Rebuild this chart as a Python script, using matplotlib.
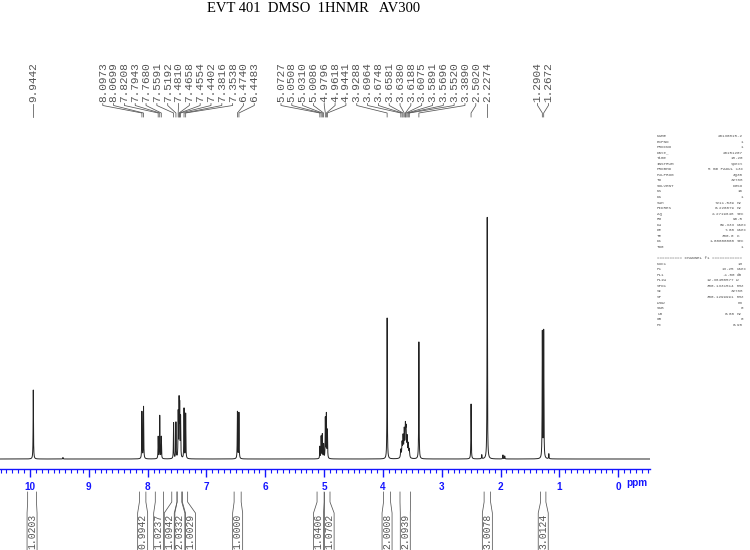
"""1H NMR spectrum, EVT 401 in DMSO (AV300), Bruker-style plot."""
import matplotlib
matplotlib.use("Agg")
import matplotlib.pyplot as plt
import numpy as np
from matplotlib.ticker import MultipleLocator
from matplotlib.transforms import blended_transform_factory

TITLE = "EVT 401  DMSO  1HNMR   AV300"

# picked peaks (ppm) and their heights (arbitrary units)
PEAK_PPM = [9.9442, 8.0973, 8.0699, 7.8208, 7.7943, 7.7680, 7.5591, 7.5192,
            7.4810, 7.4658, 7.4554, 7.4402, 7.3816, 7.3538, 6.4740, 6.4483,
            5.0727, 5.0508, 5.0310, 5.0086, 4.9796, 4.9618, 4.9441, 3.9288,
            3.6964, 3.6748, 3.6581, 3.6380, 3.6188, 3.6075, 3.5891, 3.5696,
            3.5520, 3.3890, 2.5020, 2.2274, 1.2904, 1.2672]
PEAK_HEIGHT = [69, 47, 52, 22, 43, 22, 36, 36,
               45, 55, 50, 40, 50, 45, 47, 46,
               12, 22, 24, 14, 40, 44, 28, 141,
               8, 14, 20, 26, 28, 25, 19, 13,
               8, 117, 55, 242, 126, 127]

# small unlabelled signals
MINOR_PPM = [9.44, 2.32, 1.96, 1.93, 1.18]
MINOR_HEIGHT = [1.5, 4, 4, 3, 5]

# integrals: region (ppm) and value
INT_FROM = [10.04, 8.14, 7.87, 7.59, 7.50, 7.41, 6.53, 5.12, 5.00, 3.99, 3.71, 2.28, 1.32]
INT_TO = [9.89, 8.03, 7.73, 7.50, 7.42, 7.32, 6.41, 5.00, 4.90, 3.87, 3.53, 2.17, 1.23]
INT_VALUE = ["1.0203", "0.9942", "1.0237", "1.0942", "2.0332", "1.0029", "1.0000",
             "1.0406", "1.0702", "2.0008", "2.0939", "3.0078", "3.0124"]

# acquisition / processing parameters
PARAM_NAME = ["NAME", "EXPNO", "PROCNO", "Date_", "Time", "INSTRUM", "PROBHD",
              "PULPROG", "TD", "SOLVENT", "NS", "DS", "SWH", "FIDRES", "AQ", "RG",
              "DW", "DE", "TE", "D1", "TD0"]
PARAM_VALUE = ["20130815-2", "1", "1", "20151207", "18.20", "spect", "5 mm PADUL 13C",
               "zg30", "32768", "DMSO", "16", "1", "7211.539", "0.220079", "2.2719648",
               "90.5", "69.333", "7.00", "300.0", "1.00000000", "1"]
PARAM_UNIT = ["", "", "", "", "", "", "", "", "", "", "", "", "Hz", "Hz", "sec", "",
              "usec", "usec", "K", "sec", ""]
CHAN_NAME = ["NUC1", "P1", "PL1", "PL1W", "SFO1", "SI", "SF", "WDW", "SSB", "LB", "GB", "PC"]
CHAN_VALUE = ["1H", "13.25", "-1.00", "12.36450577", "300.1331514", "32768",
              "300.1299991", "no", "0", "0.00", "0", "0.90"]
CHAN_UNIT = ["", "usec", "dB", "W", "MHz", "", "MHz", "", "", "Hz", "", ""]

W, H = 750, 550
XMAX, XMIN = 10.51, -0.54
LABEL_GAP = 0.184   # ppm between neighbouring peak labels
INT_GAP = 0.18      # ppm between neighbouring integral boxes
INT_HALF = 0.085    # half width of an integral box, ppm
BLUE = "#1515ff"
MONO = "Liberation Mono"
INK = "#555555"


def fy(py):
    return 1 - py / H


def spread(targets, gap):
    """Spread ascending targets so they are at least `gap` apart, groups centred."""
    groups = []
    for t in targets:
        groups.append([t])
        while len(groups) > 1:
            a, b = groups[-2], groups[-1]
            end_a = np.mean(a) + (len(a) - 1) * gap / 2
            start_b = np.mean(b) - (len(b) - 1) * gap / 2
            if end_a + gap <= start_b:
                break
            groups[-2:] = [a + b]
    out = []
    for g in groups:
        s = np.mean(g) - (len(g) - 1) * gap / 2
        out += [s + i * gap for i in range(len(g))]
    return out


def main() -> None:
    fig = plt.figure(figsize=(W / 100, H / 100), dpi=100)
    ax = fig.add_axes([0, 81 / H, 650 / W, 349 / H])

    ppm = np.array(PEAK_PPM + MINOR_PPM)
    hgt = np.array(PEAK_HEIGHT + MINOR_HEIGHT, dtype=float)
    gam = np.where((ppm > 3.5) & (ppm < 3.72), 0.006, 0.0035)
    x = np.linspace(XMAX, XMIN, 40000)
    y = np.zeros_like(x)
    for p, h, g in zip(ppm, hgt, gam):
        y += h * g ** 2 / (g ** 2 + (x - p) ** 2)
    ax.plot(x, y, color="#222222", lw=0.7)

    ax.set_xlim(XMAX, XMIN)
    ax.set_ylim(-10, 339)
    for s in ("left", "right", "top"):
        ax.spines[s].set_visible(False)
    ax.spines["bottom"].set_color(BLUE)
    ax.spines["bottom"].set_linewidth(1.0)
    ax.set_yticks([])
    ax.set_xticks(range(0, 11))
    ax.xaxis.set_minor_locator(MultipleLocator(0.1))
    ax.tick_params(axis="x", which="major", length=6, width=1.0, color=BLUE,
                   labelcolor=BLUE, labelsize=7.2, pad=3)
    ax.tick_params(axis="x", which="minor", length=3, width=0.8, color=BLUE)
    for lbl in ax.get_xticklabels():
        lbl.set_fontweight("bold")
        lbl.set_family("Liberation Sans")
    fig.text(637 / W, fy(483.5), "ppm", ha="center", va="center", color=BLUE,
             fontsize=7.2, fontweight="bold", family="Liberation Sans")

    fig.text(314 / W, fy(8), TITLE, ha="center", va="center",
             family="Liberation Serif", fontsize=10.5)

    trans = blended_transform_factory(ax.transData, fig.transFigure)

    # peak labels with connectors
    order = sorted(range(len(PEAK_PPM)), key=lambda i: -PEAK_PPM[i])
    targets = [-PEAK_PPM[i] for i in order]
    pos = [-v for v in spread(targets, LABEL_GAP)]
    for i, lx in zip(order, pos):
        p = PEAK_PPM[i]
        ax.text(lx, fy(102), f"{p:.4f}", transform=trans, rotation=90,
                ha="center", va="bottom", fontsize=8, family=MONO, color=INK)
        ax.plot([lx, lx, p, p], [fy(103.5), fy(105.5), fy(113), fy(117)],
                transform=trans, clip_on=False, lw=0.55, color="#555555")

    # integrals
    centres = [-(a + b) / 2 for a, b in zip(INT_FROM, INT_TO)]
    boxes = [-v for v in spread(centres, INT_GAP)]
    for a, b, c, val in zip(INT_FROM, INT_TO, boxes, INT_VALUE):
        ys = [fy(492), fy(502), fy(513), fy(552)]
        ax.plot([a, a, c + INT_HALF, c + INT_HALF], ys, transform=trans,
                clip_on=False, lw=0.55, color="#555555")
        ax.plot([b, b, c - INT_HALF, c - INT_HALF], ys, transform=trans,
                clip_on=False, lw=0.55, color="#555555")
        ax.text(c, fy(514), val, transform=trans, rotation=90, ha="center",
                va="top", fontsize=7, family=MONO, color=INK)

    # parameter block
    kw = dict(fontsize=3.1, family=MONO, color="#555555", va="center")
    rows = list(zip(PARAM_NAME, PARAM_VALUE, PARAM_UNIT))
    rows += [None, "chan"]
    rows += list(zip(CHAN_NAME, CHAN_VALUE, CHAN_UNIT))
    for k, row in enumerate(rows):
        yy = fy(136 + 5.55 * k)
        if row is None:
            continue
        if row == "chan":
            fig.text(657 / W, yy, "========== CHANNEL f1 ============", ha="left", **kw)
            continue
        name, val, unit = row
        fig.text(657 / W, yy, name, ha="left", **kw)
        if unit:
            fig.text(734.5 / W, yy, val, ha="right", **kw)
            fig.text(736.5 / W, yy, unit, ha="left", **kw)
        else:
            fig.text(743 / W, yy, val, ha="right", **kw)

    fig.savefig("out.png", dpi=100)
    plt.close(fig)


if __name__ == "__main__":
    main()
